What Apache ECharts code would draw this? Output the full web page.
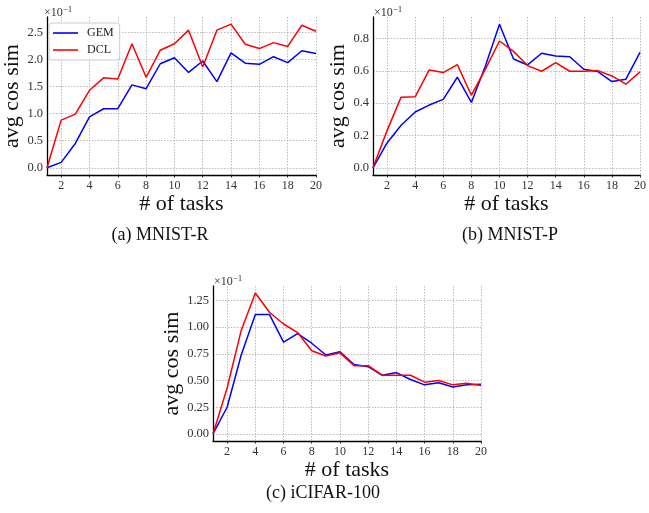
<!DOCTYPE html>
<html>
<head>
<meta charset="utf-8">
<script src="https://cdn.jsdelivr.net/npm/echarts@6/dist/echarts.min.js"></script>
<style>
  html, body { margin: 0; padding: 0; background: #fff; }
  #chart { width: 649px; height: 513px; }
</style>
</head>
<body>
<div id="chart"></div>
<script>
// Task index 1..20 shared by all panels
const tasks = [1,2,3,4,5,6,7,8,9,10,11,12,13,14,15,16,17,18,19,20];
const xTickValues = [2,4,6,8,10,12,14,16,18,20];

// Average cosine similarity (in units of 1e-1)
const mnistR_GEM = [0,0.10,0.45,0.94,1.09,1.09,1.53,1.46,1.92,2.03,1.76,1.97,1.59,2.12,1.93,1.91,2.05,1.94,2.16,2.11];
const mnistR_DCL = [0,0.88,0.99,1.43,1.66,1.64,2.29,1.67,2.17,2.29,2.54,1.86,2.54,2.65,2.28,2.20,2.31,2.24,2.63,2.52];
const mnistP_GEM = [0,0.154,0.263,0.345,0.388,0.423,0.560,0.404,0.630,0.888,0.673,0.636,0.708,0.691,0.687,0.609,0.595,0.533,0.548,0.714];
const mnistP_DCL = [0,0.230,0.437,0.439,0.605,0.589,0.638,0.449,0.610,0.784,0.720,0.632,0.597,0.650,0.597,0.597,0.601,0.568,0.517,0.593];
const cifar_GEM  = [0,0.25,0.74,1.12,1.12,0.86,0.94,0.85,0.74,0.77,0.65,0.63,0.55,0.575,0.51,0.46,0.48,0.44,0.46,0.465];
const cifar_DCL  = [0,0.43,0.97,1.32,1.14,1.03,0.95,0.78,0.73,0.76,0.64,0.64,0.55,0.55,0.55,0.485,0.50,0.46,0.475,0.455];

// Y tick labels per panel
const yTicksR = ['0.0','0.5','1.0','1.5','2.0','2.5'];
const yTicksP = ['0.0','0.2','0.4','0.6','0.8'];
const yTicksC = ['0.00','0.25','0.50','0.75','1.00','1.25'];

const seriesNames = ['GEM', 'DCL'];
const subtitles = ['(a) MNIST-R', '(b) MNIST-P', '(c) iCIFAR-100'];

const SERIF = "'Liberation Serif', 'DejaVu Serif', serif";
const BLUE = '#0000ff', RED = '#ff0000';

// Autoscale limits with a 5% margin on each side
function limits(a, b) {
  const all = a.concat(b);
  const lo = Math.min(...all), hi = Math.max(...all);
  const m = (hi - lo) * 0.05;
  return [lo - m, hi + m];
}

const panels = [
  { gem: mnistR_GEM, dcl: mnistR_DCL, ticks: yTicksR, grid: { left: 43, top: 17, width: 273, height: 158 } },
  { gem: mnistP_GEM, dcl: mnistP_DCL, ticks: yTicksP, grid: { left: 373, top: 17, width: 273, height: 158 } },
  { gem: cifar_GEM,  dcl: cifar_DCL,  ticks: yTicksC, grid: { left: 213, top: 286, width: 268, height: 155 } }
];

const gridLine = { show: true, lineStyle: { color: '#aaaaaa', width: 0.8, type: [1.5, 1.5] } };

const grids = [], xAxes = [], yAxes = [], series = [];
panels.forEach((p, i) => {
  grids.push(Object.assign({ containLabel: false }, p.grid));
  xAxes.push({
    type: 'value', gridIndex: i, min: 1, max: 20,
    name: '# of tasks', nameLocation: 'middle', nameGap: 15,
    nameTextStyle: { fontFamily: SERIF, fontSize: 22, color: '#111', verticalAlign: 'top' },
    axisLine: { show: true, onZero: false, lineStyle: { color: '#000', width: 1.3 } },
    axisTick: { show: true, length: 2.5, customValues: xTickValues, lineStyle: { color: '#000', width: 0.8 } },
    axisLabel: { customValues: xTickValues, fontFamily: SERIF, fontSize: 12, color: '#333', margin: 5 },
    splitLine: gridLine
  });
  const [lo, hi] = limits(p.gem, p.dcl);
  const tickVals = p.ticks.map(Number);
  yAxes.push({
    type: 'value', gridIndex: i, min: lo, max: hi,
    name: 'avg cos sim', nameLocation: 'middle', nameGap: 24, nameRotate: 90,
    nameTextStyle: { fontFamily: SERIF, fontSize: 22, color: '#111' },
    axisLine: { show: true, onZero: false, lineStyle: { color: '#000', width: 1.3 } },
    axisTick: { show: false, customValues: tickVals },
    axisLabel: {
      customValues: tickVals, fontFamily: SERIF, fontSize: 12.5, color: '#333', margin: 4,
      formatter: v => p.ticks[tickVals.indexOf(v)] !== undefined ? p.ticks[tickVals.indexOf(v)] : ''
    },
    splitLine: gridLine
  });
  [[p.gem, BLUE, 'GEM'], [p.dcl, RED, 'DCL']].forEach(([vals, col, nm]) => {
    series.push({
      name: nm, type: 'line', xAxisIndex: i, yAxisIndex: i,
      data: tasks.map((t, k) => [t, vals[k]]),
      showSymbol: false, symbol: 'none', animation: false,
      lineStyle: { color: col, width: 1.5 }, itemStyle: { color: col }
    });
  });
});

// Scale-factor labels above each y axis and panel captions
const graphics = [];
const expo = [[44, 5], [374, 5], [214, 274]];
expo.forEach(([x, y]) => {
  graphics.push({
    type: 'text', left: x, top: y, silent: true,
    style: {
      text: '×10{s|−1}', fontFamily: SERIF, fontSize: 12, fill: '#333',
      rich: { s: { fontSize: 9, fontFamily: SERIF, fill: '#333', padding: [0, 0, 6, 0] } }
    }
  });
});
const caps = [[160, 226], [510, 226], [323, 484]];
caps.forEach(([x, y], i) => {
  graphics.push({
    type: 'text', x: x, y: y, silent: true,
    style: { text: subtitles[i], fontFamily: SERIF, fontSize: 18, fill: '#111', textAlign: 'center' }
  });
});

const chart = echarts.init(document.getElementById('chart'), null, { renderer: 'canvas' });
chart.setOption({
  animation: false,
  backgroundColor: '#fff',
  grid: grids, xAxis: xAxes, yAxis: yAxes, series: series,
  legend: {
    data: seriesNames, orient: 'vertical', left: 49, top: 23,
    icon: 'rect', itemWidth: 25, itemHeight: 1.6, itemGap: 5,
    padding: [4, 6, 4, 4],
    borderColor: '#cccccc', borderWidth: 1, borderRadius: 3,
    backgroundColor: 'rgba(255,255,255,0.85)',
    textStyle: { fontFamily: SERIF, fontSize: 12, color: '#222', padding: [0, 0, 0, 4] }
  },
  graphic: graphics
});
</script>
</body>
</html>
